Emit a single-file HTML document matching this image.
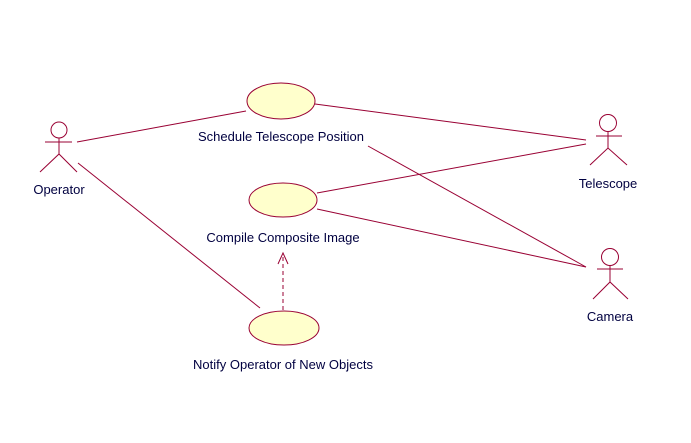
<!DOCTYPE html>
<html><head><style>
body{margin:0;background:#fff;width:691px;height:438px;overflow:hidden}
text{font-family:"Liberation Sans",sans-serif;font-size:13px;fill:#000040}
</style></head><body>
<svg width="691" height="438" viewBox="0 0 691 438">
<g stroke="#990033" stroke-width="1" fill="none">
<line x1="77" y1="142" x2="246" y2="111"/>
<line x1="78" y1="163" x2="260" y2="308"/>
<line x1="315" y1="104" x2="586" y2="140"/>
<line x1="368" y1="146" x2="586" y2="267"/>
<line x1="317" y1="193" x2="586" y2="144"/>
<line x1="317" y1="209" x2="586" y2="267"/>
<line x1="283" y1="310" x2="283" y2="254" stroke-dasharray="4,3"/>
<polyline points="278,264 283,253 288,264"/>
<circle cx="59" cy="130" r="8"/>
<line x1="45" y1="142" x2="72" y2="142"/>
<line x1="59" y1="138" x2="59" y2="154"/>
<polyline points="40,172 59,154 77,172"/>
<circle cx="608" cy="123" r="8.5"/>
<line x1="596" y1="136" x2="622" y2="136"/>
<line x1="608" y1="132" x2="608" y2="148"/>
<polyline points="590,165 608,148 627,165"/>
<circle cx="610" cy="257" r="8.5"/>
<line x1="597" y1="269" x2="623" y2="269"/>
<line x1="610" y1="266" x2="610" y2="282"/>
<polyline points="593,299 610,282 628,299"/>
</g>
<g fill="#ffffcc" stroke="#990033">
<ellipse cx="281" cy="101" rx="34" ry="18"/>
<ellipse cx="283" cy="200" rx="34" ry="17"/>
<ellipse cx="284" cy="328" rx="35" ry="17"/>
</g>
<text x="59" y="194" text-anchor="middle">Operator</text>
<text x="281" y="141" text-anchor="middle">Schedule Telescope Position</text>
<text x="283" y="242" text-anchor="middle">Compile Composite Image</text>
<text x="283" y="369" text-anchor="middle">Notify Operator of New Objects</text>
<text x="608" y="188" text-anchor="middle">Telescope</text>
<text x="610" y="321" text-anchor="middle">Camera</text>
</svg>
</body></html>
